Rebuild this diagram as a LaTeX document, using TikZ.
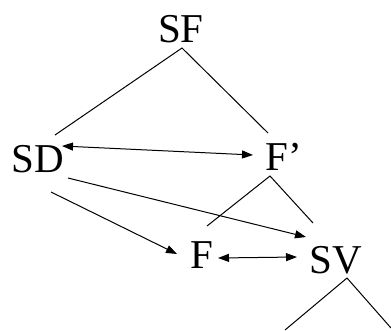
\documentclass[tikz,border=0pt]{standalone}
\usepackage{fontspec}
\setmainfont{Liberation Serif}
\usetikzlibrary{arrows.meta,calc}
\begin{document}
\begin{tikzpicture}[x=1pt,y=-1pt,
  word/.style={font=\fontsize{41}{41}\selectfont, inner sep=0pt, anchor=base},
  branch/.style={line width=1pt},
  link/.style={line width=1pt, -{Triangle[length=11pt,width=8pt]}},
  both/.style={line width=1pt, {Triangle[length=11pt,width=8pt]}-{Triangle[length=11pt,width=8pt]}}]
  \useasboundingbox[fill=white] (0,0) rectangle (391,330);

  % category labels
  \node[word] (SF) at (181,42)   {SF};
  \node[word] (SD) at (37.5,172) {SD};
  \node[word] (Fp) at (283.5,170) {F’};
  \node[word] (F)  at (202,268)  {F};
  \node[word] (SV) at (336,273)  {SV};

  % attachment points around the labels
  \coordinate (SFfoot)  at ($(SF.base)+(1,6)$);
  \coordinate (SDtop)   at ($(SD.base)+(17.5,-37)$);
  \coordinate (SDright) at ($(SD.base)+(24.5,-26)$);
  \coordinate (SDlowA)  at ($(SD.base)+(30.5,6)$);
  \coordinate (SDlowB)  at ($(SD.base)+(13.5,20)$);
  \coordinate (Fptop)   at ($(Fp.base)+(-15.5,-37)$);
  \coordinate (Fpleft)  at ($(Fp.base)+(-30.5,-15)$);
  \coordinate (Fpfoot)  at ($(Fp.base)+(-13.5,6)$);
  \coordinate (Ftop)    at ($(F.base)+(5,-42)$);
  \coordinate (Fleft)   at ($(F.base)+(-25,-14)$);
  \coordinate (Fright)  at ($(F.base)+(16,-10)$);
  \coordinate (SVtop)   at ($(SV.base)+(-23,-50)$);
  \coordinate (SVin)    at ($(SV.base)+(-30,-36)$);
  \coordinate (SVleft)  at ($(SV.base)+(-39,-16)$);
  \coordinate (SVfoot)  at ($(SV.base)+(11,5)$);
  \coordinate (leafL)   at (285,330);
  \coordinate (leafR)   at (391,328);

  % tree branches
  \draw[branch] (SDtop) -- (SFfoot) -- (Fptop);
  \draw[branch] (Ftop) -- (Fpfoot) -- (SVtop);
  \draw[branch] (leafL) -- (SVfoot) -- (leafR);

  % arrows
  \draw[both] (SDright) -- (Fpleft);
  \draw[link] (SDlowA) -- (SVin);
  \draw[link] (SDlowB) -- (Fleft);
  \draw[both] (Fright) -- (SVleft);
\end{tikzpicture}
\end{document}
